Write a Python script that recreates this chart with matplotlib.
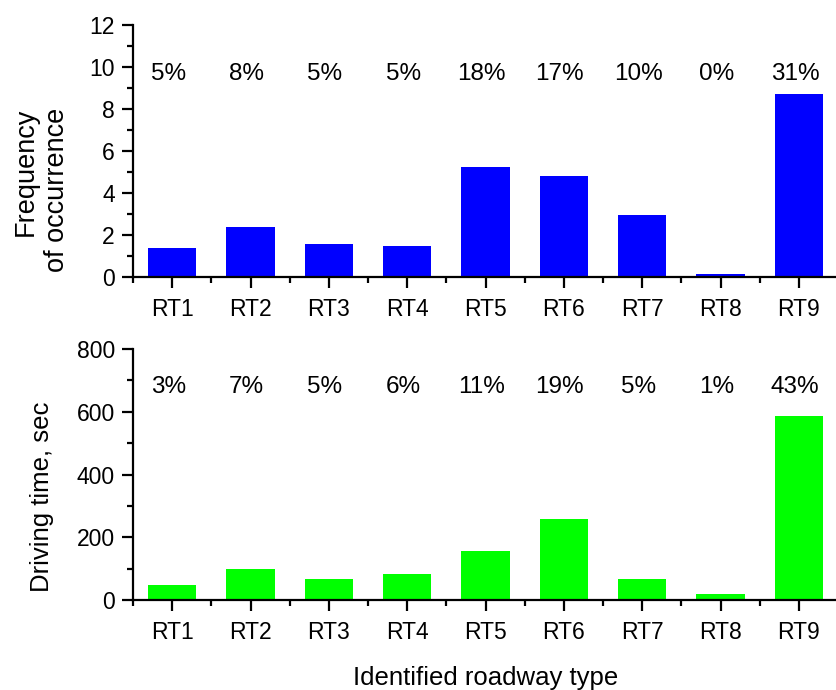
import matplotlib
matplotlib.use("Agg")
import matplotlib.pyplot as plt
from matplotlib.ticker import MultipleLocator, FixedLocator

plt.rcParams['font.family'] = ['Liberation Sans', 'DejaVu Sans']

categories = ["RT1", "RT2", "RT3", "RT4", "RT5", "RT6", "RT7", "RT8", "RT9"]
frequency = [1.38, 2.38, 1.56, 1.49, 5.24, 4.79, 2.97, 0.13, 8.71]
freq_share = ["5%", "8%", "5%", "5%", "18%", "17%", "10%", "0%", "31%"]
driving_time = [47, 99, 67, 83, 155, 259, 66, 18, 587]
time_share = ["3%", "7%", "5%", "6%", "11%", "19%", "5%", "1%", "43%"]

TICK_FS = 16.5
NOTE_FS = 17.5
LABEL_FS = 18.5

fig = plt.figure(figsize=(8.36, 6.90), dpi=100)
ax1 = fig.add_axes([133/836, 1 - 277/690, 705/836, 252/690])
ax2 = fig.add_axes([133/836, 1 - 600/690, 705/836, 251/690])

x = list(range(1, len(categories) + 1))


def style(ax, ymax, major, minor):
    ax.set_xlim(0.5, 9.5)
    ax.set_ylim(0, ymax)
    for s in ("top", "right"):
        ax.spines[s].set_visible(False)
    for s in ("left", "bottom"):
        ax.spines[s].set_linewidth(1.6)
    ax.set_xticks(x)
    ax.set_xticklabels(categories)
    ax.xaxis.set_minor_locator(FixedLocator([i + 0.5 for i in range(0, 9)]))
    ax.yaxis.set_major_locator(MultipleLocator(major))
    ax.yaxis.set_minor_locator(MultipleLocator(minor))
    ax.tick_params(which="major", direction="out", length=8, width=1.6,
                   labelsize=TICK_FS)
    ax.tick_params(which="minor", direction="out", length=4, width=1.6)
    ax.tick_params(axis="x", which="major", pad=7)
    ax.tick_params(axis="y", which="major", pad=5)


ax1.bar(x, frequency, width=0.62, color="#0000ff", zorder=2)
style(ax1, 12, 2, 1)
for xi, t in zip(x, freq_share):
    ax1.text(xi - 0.05, 9.65, t, ha="center", va="center", fontsize=NOTE_FS)
ax1.set_ylabel("Frequency\nof occurrence", fontsize=19.5, linespacing=1.25,
               multialignment="right")
ax1.yaxis.set_label_coords(-0.09, 0.347)

ax2.bar(x, driving_time, width=0.62, color="#00ff00", zorder=2)
style(ax2, 800, 200, 100)
for xi, t in zip(x, time_share):
    ax2.text(xi - 0.05, 680, t, ha="center", va="center", fontsize=NOTE_FS)
ax2.set_ylabel("Driving time, sec", fontsize=LABEL_FS)
ax2.yaxis.set_label_coords(-0.112, 0.41)
ax2.set_xlabel("Identified roadway type", fontsize=LABEL_FS, labelpad=16)

fig.savefig("out.png", dpi=100)
